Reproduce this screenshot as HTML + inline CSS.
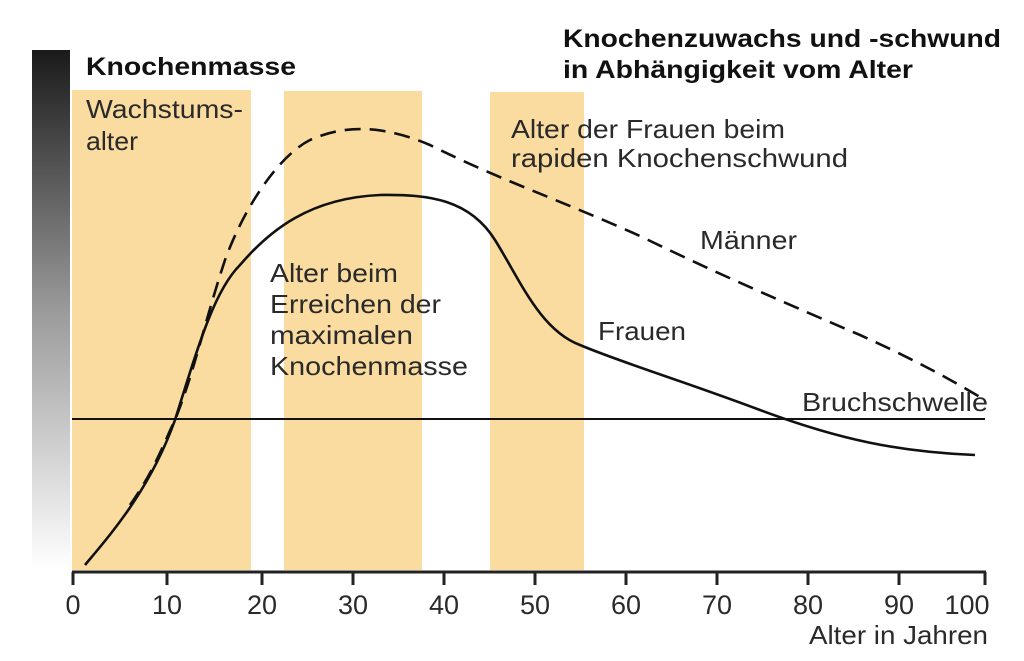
<!DOCTYPE html>
<html><head><meta charset="utf-8"><style>
html,body{margin:0;padding:0;background:#fff;}
svg{display:block;font-family:"Liberation Sans",sans-serif;}
</style></head><body>
<svg width="1024" height="661" viewBox="0 0 1024 661">
<defs><linearGradient id="g" x1="0" y1="0" x2="0" y2="1">
<stop offset="0" stop-color="#1a1a1a"/><stop offset="0.5" stop-color="#9a9a9a"/><stop offset="1" stop-color="#ffffff"/></linearGradient></defs>
<rect x="32" y="50" width="38" height="520" fill="url(#g)"/>
<g fill="#fbdca0">
<rect x="72" y="90" width="179" height="480"/>
<rect x="284" y="91" width="138" height="479"/>
<rect x="490" y="92" width="94" height="478"/>
</g>
<line x1="72" y1="419" x2="985" y2="419" stroke="#111" stroke-width="2"/>
<path d="M85,565 C110,535 150,490 175,420 C200,340 215,290 240,265 C270,230 310,198 380,195 C430,194 470,200 495,240 C520,280 540,330 580,345 C620,362 680,380 760,410 C840,440 900,452 975,455" fill="none" stroke="#111" stroke-width="2.6"/>
<path d="M130,505 C155,470 165,440 175,420 C195,370 205,320 225,260 C245,205 280,155 310,140 C350,122 390,128 430,145 C500,180 560,200 640,236 C720,275 790,305 860,335 C920,362 960,385 985,400" fill="none" stroke="#111" stroke-width="2.6" stroke-dasharray="16,9"/>
<line x1="72" y1="572" x2="986" y2="572" stroke="#222" stroke-width="3"/>
<g stroke="#222" stroke-width="3">
<line x1="73" y1="572" x2="73" y2="585"/><line x1="167" y1="572" x2="167" y2="585"/><line x1="262" y1="572" x2="262" y2="585"/><line x1="353" y1="572" x2="353" y2="585"/><line x1="444" y1="572" x2="444" y2="585"/><line x1="535" y1="572" x2="535" y2="585"/><line x1="626" y1="572" x2="626" y2="585"/><line x1="717" y1="572" x2="717" y2="585"/><line x1="808" y1="572" x2="808" y2="585"/><line x1="899" y1="572" x2="899" y2="585"/><line x1="985" y1="572" x2="985" y2="585"/>
</g>
<g font-size="27" fill="#2a2a2a" text-anchor="middle">
<text x="73" y="614">0</text><text x="167" y="614">10</text><text x="262" y="614">20</text><text x="353" y="614">30</text><text x="444" y="614">40</text><text x="535" y="614">50</text><text x="626" y="614">60</text><text x="717" y="614">70</text><text x="808" y="614">80</text><text x="899" y="614">90</text><text x="967" y="614">100</text>
</g>
<g font-size="26" fill="#2a2a2a">
<text x="809" y="644" textLength="179" lengthAdjust="spacingAndGlyphs">Alter in Jahren</text>
<text x="86" y="118" textLength="157" lengthAdjust="spacingAndGlyphs">Wachstums-</text>
<text x="86" y="150" textLength="52" lengthAdjust="spacingAndGlyphs">alter</text>
<text x="270" y="282" textLength="128" lengthAdjust="spacingAndGlyphs">Alter beim</text>
<text x="270" y="313" textLength="171" lengthAdjust="spacingAndGlyphs">Erreichen der</text>
<text x="270" y="344" textLength="143" lengthAdjust="spacingAndGlyphs">maximalen</text>
<text x="270" y="375" textLength="198" lengthAdjust="spacingAndGlyphs">Knochenmasse</text>
<text x="511" y="138" textLength="274" lengthAdjust="spacingAndGlyphs">Alter der Frauen beim</text>
<text x="511" y="167" textLength="337" lengthAdjust="spacingAndGlyphs">rapiden Knochenschwund</text>
<text x="700" y="249" textLength="97" lengthAdjust="spacingAndGlyphs">Männer</text>
<text x="598" y="340" textLength="88" lengthAdjust="spacingAndGlyphs">Frauen</text>
<text x="802" y="411" textLength="186" lengthAdjust="spacingAndGlyphs">Bruchschwelle</text>
</g>
<g font-size="25" font-weight="bold" fill="#111">
<text x="86" y="75" textLength="210" lengthAdjust="spacingAndGlyphs">Knochenmasse</text>
<text x="563" y="47" textLength="438" lengthAdjust="spacingAndGlyphs">Knochenzuwachs und -schwund</text>
<text x="563" y="78" textLength="350" lengthAdjust="spacingAndGlyphs">in Abhängigkeit vom Alter</text>
</g>
</svg>
</body></html>
